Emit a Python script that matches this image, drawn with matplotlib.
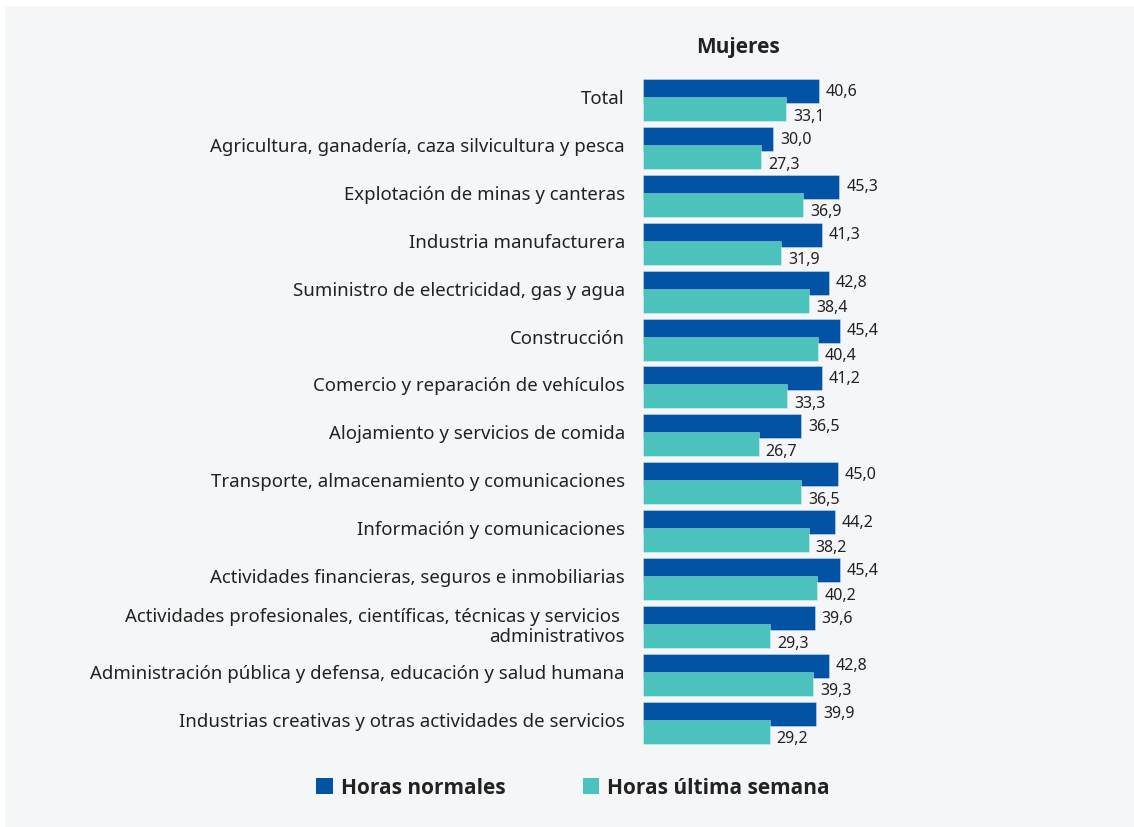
import matplotlib
matplotlib.use("Agg")
import matplotlib.pyplot as plt
from matplotlib.patches import Patch, Rectangle
from matplotlib.transforms import ScaledTranslation
import numpy as np

plt.rcParams['font.family'] = ['Noto Sans', 'DejaVu Sans']

categories = [
    "Total",
    "Agricultura, ganadería, caza silvicultura y pesca",
    "Explotación de minas y canteras",
    "Industria manufacturera",
    "Suministro de electricidad, gas y agua",
    "Construcción",
    "Comercio y reparación de vehículos",
    "Alojamiento y servicios de comida",
    "Transporte, almacenamiento y comunicaciones",
    "Información y comunicaciones",
    "Actividades financieras, seguros e inmobiliarias",
    "Actividades profesionales, científicas, técnicas y servicios \nadministrativos",
    "Administración pública y defensa, educación y salud humana",
    "Industrias creativas y otras actividades de servicios",
]
horas_normales = [40.6, 30.0, 45.3, 41.3, 42.8, 45.4, 41.2, 36.5, 45.0, 44.2, 45.4, 39.6, 42.8, 39.9]
horas_ultima_semana = [33.1, 27.3, 36.9, 31.9, 38.4, 40.4, 33.3, 26.7, 36.5, 38.2, 40.2, 29.3, 39.3, 29.2]
series_names = ["Horas normales", "Horas última semana"]
title = "Mujeres"

BLUE = "#0353a4"
TEAL = "#4cc2bd"
TEXT = "#222222"
BG = "#f5f6f8"

W, H = 1134, 827
fig = plt.figure(figsize=(W / 100, H / 100), dpi=100)
fig.patch.set_facecolor("white")
# light panel behind the chart
fig.patches.append(Rectangle((5 / W, 0), 1, 1 - 6 / H, transform=fig.transFigure,
                             facecolor=BG, edgecolor="none", zorder=-10))

step = 47.9  # px between categories
top_px = 100 - 0.9 * step
height_px = 14.8 * step
ax = fig.add_axes([643 / W, 1 - (top_px + height_px) / H, 216.75 / W, height_px / H])
ax.set_facecolor("none")
ax.set_xlim(0, 50)
ax.set_ylim(13.9, -0.9)

y = np.arange(len(categories))
bh = 24 / step
off = 9 / step
ax.barh(y - off, horas_normales, height=bh, color=BLUE, edgecolor=(1, 1, 1, 0.45),
        linewidth=0.5, zorder=2)
ax.barh(y + off, horas_ultima_semana, height=bh, color=TEAL, edgecolor=(1, 1, 1, 0.45),
        linewidth=0.5, zorder=3)

def fmt(v):
    return f"{v:.1f}".replace(".", ",")

for yi, v in zip(y, horas_normales):
    ax.annotate(fmt(v), (v, yi - off), xytext=(5, -0.5), textcoords="offset points",
                ha="left", va="center", fontsize=11.5, color=TEXT, zorder=4)
for yi, v in zip(y, horas_ultima_semana):
    ax.annotate(fmt(v), (v, yi + off), xytext=(5, -5.5), textcoords="offset points",
                ha="left", va="center", fontsize=11.5, color=TEXT, zorder=4)

ax.set_yticks(y)
ax.set_yticklabels(categories, fontsize=13.4, color=TEXT, linespacing=1.15)
ax.tick_params(axis="y", length=0, pad=13)
shift = ScaledTranslation(0, 3 / 100, fig.dpi_scale_trans)
for lab in ax.get_yticklabels():
    lab.set_transform(lab.get_transform() + shift)
ax.set_xticks([])
for s in ax.spines.values():
    s.set_visible(False)

BOLD = ["Open Sans", "Noto Sans", "DejaVu Sans"]
fig.text(738 / W, 1 - 47 / H, title, ha="center", va="center", fontsize=15,
         fontweight="bold", family=BOLD, color=TEXT)

handles = [Patch(facecolor=BLUE, edgecolor="none"), Patch(facecolor=TEAL, edgecolor="none")]
leg = fig.legend(handles, series_names, loc="center", bbox_to_anchor=(573 / W, 1 - 788 / H),
                 ncol=2, frameon=False, handlelength=0.8, handleheight=0.8,
                 handletextpad=0.38, columnspacing=3.7,
                 prop={"size": 15, "weight": "bold", "family": BOLD})
for t in leg.get_texts():
    t.set_color(TEXT)

fig.savefig("out.png", dpi=100, facecolor=fig.get_facecolor())
